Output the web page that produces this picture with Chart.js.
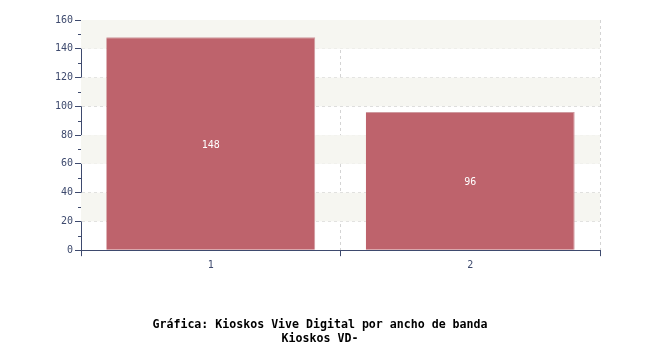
<!DOCTYPE html>
<html>
<head>
<meta charset="utf-8">
<script src="https://cdn.jsdelivr.net/npm/chart.js@4/dist/chart.umd.min.js"></script>
<style>
  html, body { margin: 0; padding: 0; background: #fff; }
</style>
</head>
<body>
<canvas id="grafica" width="650" height="350"></canvas>
<script>
// datos
var categorias = ["1", "2"];
var kioskos = [148, 96];
var titulo = ["Gráfica: Kioskos Vive Digital por ancho de banda", "Kioskos VD-"];

var colorEje = "#3e4a6e";

// franjas alternas en el fondo
var franjas = {
  id: 'franjas',
  beforeDatasetsDraw: function (chart) {
    var y = chart.scales.y, area = chart.chartArea, ctx = chart.ctx;
    ctx.save();
    ctx.fillStyle = "#f6f6f1";
    for (var v = 20; v < 160; v += 40) {
      var t = y.getPixelForValue(v + 20), b = y.getPixelForValue(v);
      ctx.fillRect(area.left, t, area.right - area.left, b - t);
    }
    ctx.restore();
  }
};

// marcas menores del eje y + etiquetas de valores
var extras = {
  id: 'extras',
  afterDraw: function (chart) {
    var y = chart.scales.y, ctx = chart.ctx, x0 = chart.chartArea.left;
    ctx.save();
    ctx.strokeStyle = colorEje;
    ctx.lineWidth = 1;
    for (var v = 10; v < 160; v += 20) {
      var p = Math.round(y.getPixelForValue(v)) + 0.5;
      ctx.beginPath();
      ctx.moveTo(x0 - 3, p);
      ctx.lineTo(x0, p);
      ctx.stroke();
    }
    ctx.fillStyle = "#ffffff";
    ctx.font = "10px 'DejaVu Sans Mono'";
    ctx.textAlign = "center";
    ctx.textBaseline = "middle";
    var meta = chart.getDatasetMeta(0);
    meta.data.forEach(function (bar, i) {
      ctx.fillText(String(kioskos[i]), bar.x, (bar.y + bar.base) / 2 + 2);
    });
    ctx.restore();
  }
};

new Chart(document.getElementById("grafica"), {
  type: 'bar',
  data: {
    labels: categorias,
    datasets: [{
      data: kioskos,
      backgroundColor: "#be636c",
      borderColor: "#cf9a9f",
      borderWidth: { top: 1, right: 1, left: 0, bottom: 0 },
      borderSkipped: false,
      barPercentage: 0.805,
      categoryPercentage: 1.0
    }]
  },
  options: {
    responsive: false,
    animation: false,
    events: [],
    layout: { padding: { left: 0, right: 10, top: 20, bottom: 0 } },
    plugins: {
      legend: { display: false },
      tooltip: { enabled: false },
      title: {
        display: true,
        position: 'bottom',
        text: titulo,
        color: "#000",
        font: { family: "'DejaVu Sans Mono'", size: 11.6, weight: 'bold' },
        lineHeight: 1.15,
        padding: { top: 0, bottom: 4 }
      }
    },
    scales: {
      x: {
        grid: {
          offset: true,
          color: "#d4d4d4",
          tickColor: colorEje,
          tickLength: 6,
          tickBorderDash: []
        },
        border: { color: colorEje, dash: [3, 3] },
        ticks: { color: colorEje, font: { family: "'DejaVu Sans Mono'", size: 10 }, padding: 3 },
        afterFit: function (s) { s.height = 68; }
      },
      y: {
        min: 0,
        max: 160,
        ticks: { stepSize: 20, color: colorEje, font: { family: "'DejaVu Sans Mono'", size: 10 }, padding: 2 },
        grid: {
          color: "#d4d4d4",
          tickColor: colorEje,
          tickLength: 6,
          tickBorderDash: []
        },
        border: { color: colorEje, dash: [3, 3] },
        afterFit: function (s) { s.width = 81; }
      },
      margen: {
        position: 'right',
        display: true,
        grid: { display: false },
        border: { display: false },
        ticks: { display: false },
        afterFit: function (s) { s.width = 40; }
      }
    }
  },
  plugins: [franjas, extras]
});
</script>
</body>
</html>
